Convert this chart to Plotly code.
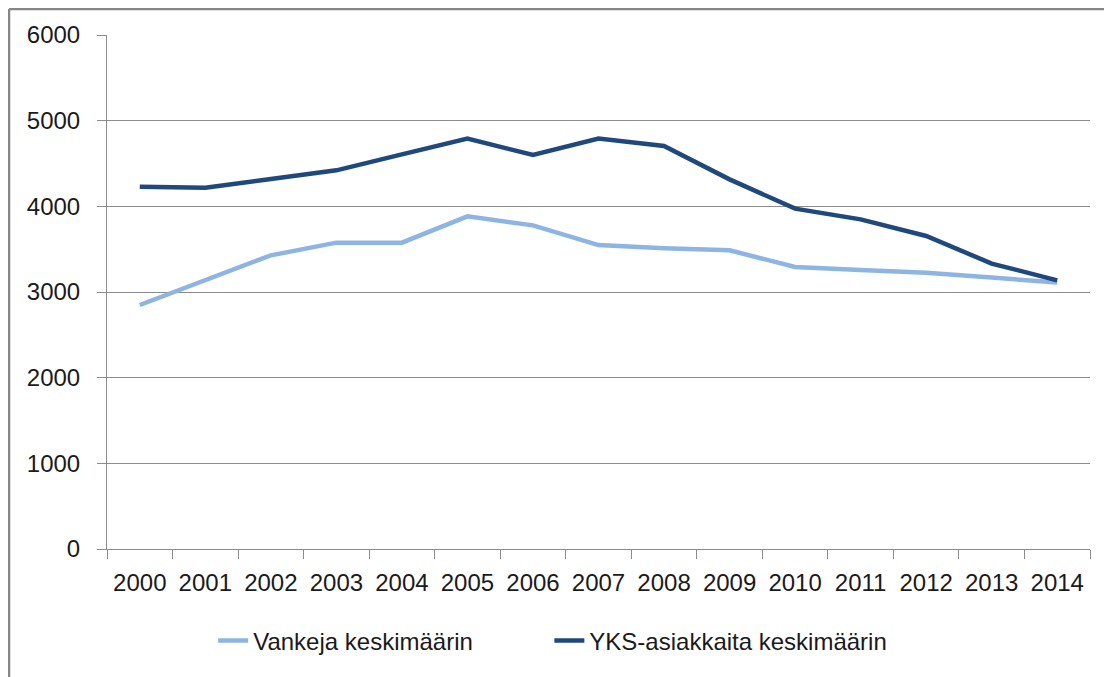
import plotly.graph_objects as go

years = [str(y) for y in range(2000, 2015)]
vankeja = [2848, 3140, 3428, 3576, 3576, 3883, 3778, 3548, 3510, 3487, 3292, 3257, 3226, 3168, 3110]
yks = [4230, 4218, 4320, 4420, 4607, 4790, 4600, 4792, 4704, 4315, 3973, 3848, 3654, 3332, 3136]
series_names = ["Vankeja keskimäärin", "YKS-asiakkaita keskimäärin"]
y_ticks = [0, 1000, 2000, 3000, 4000, 5000, 6000]

FONT = "Liberation Sans"
GRID = "#8c8c8c"
TXT = "#1a1a1a"

fig = go.Figure()
fig.add_trace(go.Scatter(x=years, y=vankeja, mode="lines", name=series_names[0],
                         line=dict(color="#8db4e2", width=4.5), legend="legend"))
fig.add_trace(go.Scatter(x=years, y=yks, mode="lines", name=series_names[1],
                         line=dict(color="#1f497d", width=4.5), legend="legend2"))

leg_common = dict(orientation="h", xanchor="left", y=-0.179, yanchor="middle",
                  font=dict(family=FONT, size=24, color=TXT),
                  bgcolor="rgba(0,0,0,0)")

fig.update_layout(
    width=1104, height=669,
    margin=dict(l=99, r=22, t=27, b=128),
    paper_bgcolor="white", plot_bgcolor="white",
    font=dict(family=FONT, size=24, color=TXT),
    showlegend=True,
    legend=dict(x=0.108, **leg_common),
    legend2=dict(x=0.450, **leg_common),
    xaxis=dict(type="category", tickson="boundaries", ticks="outside", ticklen=9,
               tickcolor=GRID, showline=True, linecolor=GRID, linewidth=1,
               showgrid=False, range=[-0.5, 14.5], ticklabelstandoff=12,
               tickfont=dict(family=FONT, size=24, color=TXT)),
    yaxis=dict(range=[0, 6000], tickvals=y_ticks, ticks="outside", ticklen=9,
               tickcolor=GRID, showline=True, linecolor=GRID, linewidth=1,
               showgrid=True, gridcolor=GRID, gridwidth=1, zeroline=False,
               ticklabelstandoff=12,
               tickfont=dict(family=FONT, size=24, color=TXT)),
    hovermode=False,
)

# outer chart border (top and left edges visible in the crop)
top_y = (549 - 9) / 514
fig.add_shape(type="line", xref="paper", yref="paper",
              x0=(9 - 107) / 983, x1=(1112 - 107) / 983,
              y0=top_y, y1=top_y,
              line=dict(color="#868686", width=2.5))
fig.add_shape(type="line", xref="paper", yref="paper",
              x0=(9 - 107) / 983, x1=(9 - 107) / 983,
              y0=top_y, y1=(549 - 677) / 514,
              line=dict(color="#868686", width=2.5))

fig.write_html("out.html")
